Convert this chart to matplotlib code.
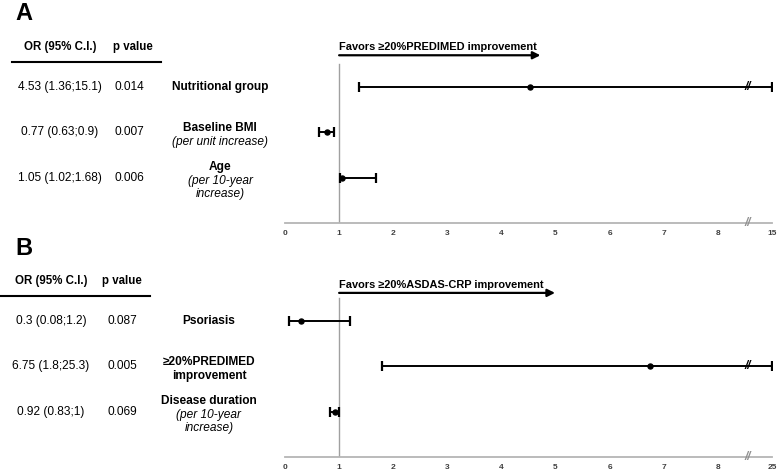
import matplotlib
matplotlib.use("Agg")
import matplotlib.pyplot as plt
from matplotlib.transforms import blended_transform_factory

plt.rcParams['font.family'] = ['Liberation Sans', 'DejaVu Sans']

# ---------------- data ----------------
a_labels = [[("Nutritional group", "bold")],
            [("Baseline BMI", "bold"), ("(per unit increase)", "italic")],
            [("Age", "bold"), ("(per 10-year", "italic"), ("increase)", "italic")]]
a_or = [4.53, 0.77, 1.05]
a_lo = [1.36, 0.63, 1.02]
a_hi = [15.1, 0.9, 1.68]
a_p = ["0.014", "0.007", "0.006"]
a_axis_max = 15
a_favors = "Favors \u226520%PREDIMED improvement"

b_labels = [[("Psoriasis", "bold")],
            [("\u226520%PREDIMED", "bold"), ("improvement", "bold")],
            [("Disease duration", "bold"), ("(per 10-year", "italic"), ("increase)", "italic")]]
b_or = [0.3, 6.75, 0.92]
b_lo = [0.08, 1.8, 0.83]
b_hi = [1.2, 25.3, 1.0]
b_p = ["0.087", "0.005", "0.069"]
b_axis_max = 25
b_favors = "Favors \u226520%ASDAS-CRP improvement"

tick_values = [0, 1, 2, 3, 4, 5, 6, 7, 8]

# ---------------- figure ----------------
W, H = 778, 473
fig = plt.figure(figsize=(W / 100, H / 100), dpi=100)
BREAK = 8.5
UNIT = 45.33  # pixels per row


def make_pos(top):
    def pos(v):
        if v <= BREAK:
            return v
        return BREAK + 0.5 * (v - BREAK) / (top - BREAK)
    return pos


def panel(letter, row0_px, labels, ors, los, his, ps, top, favors, xs, arrow_end, fav_y, arrow_y):
    axis_px = row0_px + 3 * UNIT
    top_px = row0_px - UNIT
    ax = fig.add_axes([285 / W, (H - axis_px) / H, 487 / W, (axis_px - top_px) / H])
    ax.set_xlim(0, 9)
    ax.set_ylim(3, -1)
    for s in ['top', 'right', 'left']:
        ax.spines[s].set_visible(False)
    ax.spines['bottom'].set_color('#b5b5b5')
    ax.spines['bottom'].set_linewidth(1.3)
    pos = make_pos(top)
    ticks = [pos(t) for t in tick_values] + [pos(top)]
    ax.set_xticks(ticks)
    ax.set_xticklabels([str(t) for t in tick_values] + [str(top)])
    ax.tick_params(axis='x', length=0, pad=5, labelsize=6, labelcolor='#404040')
    for lab in ax.get_xticklabels():
        lab.set_fontweight('bold')
    ax.set_yticks([])

    # reference line at 1
    ax.plot([1, 1], [-0.5, 3], color='#a0a0a0', lw=1.0, zorder=1)

    # axis break mark
    ax.text(pos(BREAK) + 0.05, 3, "//", ha='center', va='center', fontsize=8.5,
            color='#909090', fontweight='bold', fontstyle='italic', clip_on=False)

    # CIs
    for i in range(len(ors)):
        c = pos(ors[i])
        lo = pos(los[i])
        hi = pos(his[i])
        ax.errorbar([c], [i], xerr=[[c - lo], [hi - c]], fmt='o', color='black',
                    ms=3.6, elinewidth=1.4, capsize=3.3, capthick=1.6, zorder=3)
        if his[i] > BREAK:
            ax.text(pos(BREAK) + 0.05, i, "//", ha='center', va='center', fontsize=8.5,
                    color='black', fontweight='bold', fontstyle='italic', zorder=4)

    # favors arrow
    ax.text(1.0, fav_y, favors, ha='left', va='center', fontsize=7.9,
            fontweight='bold', clip_on=False)
    ax.annotate("", xy=(arrow_end, arrow_y), xytext=(1.0, arrow_y),
                arrowprops=dict(arrowstyle='-|>', lw=1.6, color='black',
                                mutation_scale=11, shrinkA=0, shrinkB=0),
                annotation_clip=False)

    # table
    tr = blended_transform_factory(fig.transFigure, ax.transData)
    ax.text(xs['letter'] / W, -73 / UNIT, letter, transform=tr, ha='center', va='center',
            fontsize=17, fontweight='heavy')
    ax.text(xs['or'] / W, -0.89, "OR (95% C.I.)", transform=tr, ha='center', va='center',
            fontsize=8.3, fontweight='bold')
    ax.text(xs['p_head'] / W, -0.89, "p value", transform=tr, ha='center', va='center',
            fontsize=8.3, fontweight='bold')
    ax.plot([xs['line0'] / W, xs['line1'] / W], [-0.55, -0.55], transform=tr,
            color='black', lw=1.5, clip_on=False)
    for i in range(len(ors)):
        txt = f"{ors[i]:g} ({los[i]:g};{his[i]:g})"
        ax.text(xs['or'] / W, i, txt, transform=tr, ha='center', va='center', fontsize=8.6)
        ax.text(xs['p'] / W, i, ps[i], transform=tr, ha='center', va='center', fontsize=8.6)
        lines = labels[i]
        n = len(lines)
        sp = 13.8 / UNIT
        for k, (t, st) in enumerate(lines):
            y = i + 3 / UNIT * (n > 1) + (k - (n - 1) / 2) * sp
            ax.text(xs['label'] / W, y, t, transform=tr, ha='center', va='center',
                    fontsize=8.6, fontweight='bold' if st == 'bold' else 'normal',
                    fontstyle='italic' if st == 'italic' else 'normal')
    return ax


panel("A", 87, a_labels, a_or, a_lo, a_hi, a_p, a_axis_max, a_favors,
      {'letter': 24, 'or': 60, 'p': 129, 'p_head': 133, 'label': 220,
       'line0': 12, 'line1': 161},
      arrow_end=4.72, fav_y=-0.88, arrow_y=-0.70)
panel("B", 321, b_labels, b_or, b_lo, b_hi, b_p, b_axis_max, b_favors,
      {'letter': 24, 'or': 51, 'p': 122.5, 'p_head': 122, 'label': 209,
       'line0': 0, 'line1': 150},
      arrow_end=4.99, fav_y=-0.79, arrow_y=-0.62)

fig.savefig("out.png", dpi=100)
